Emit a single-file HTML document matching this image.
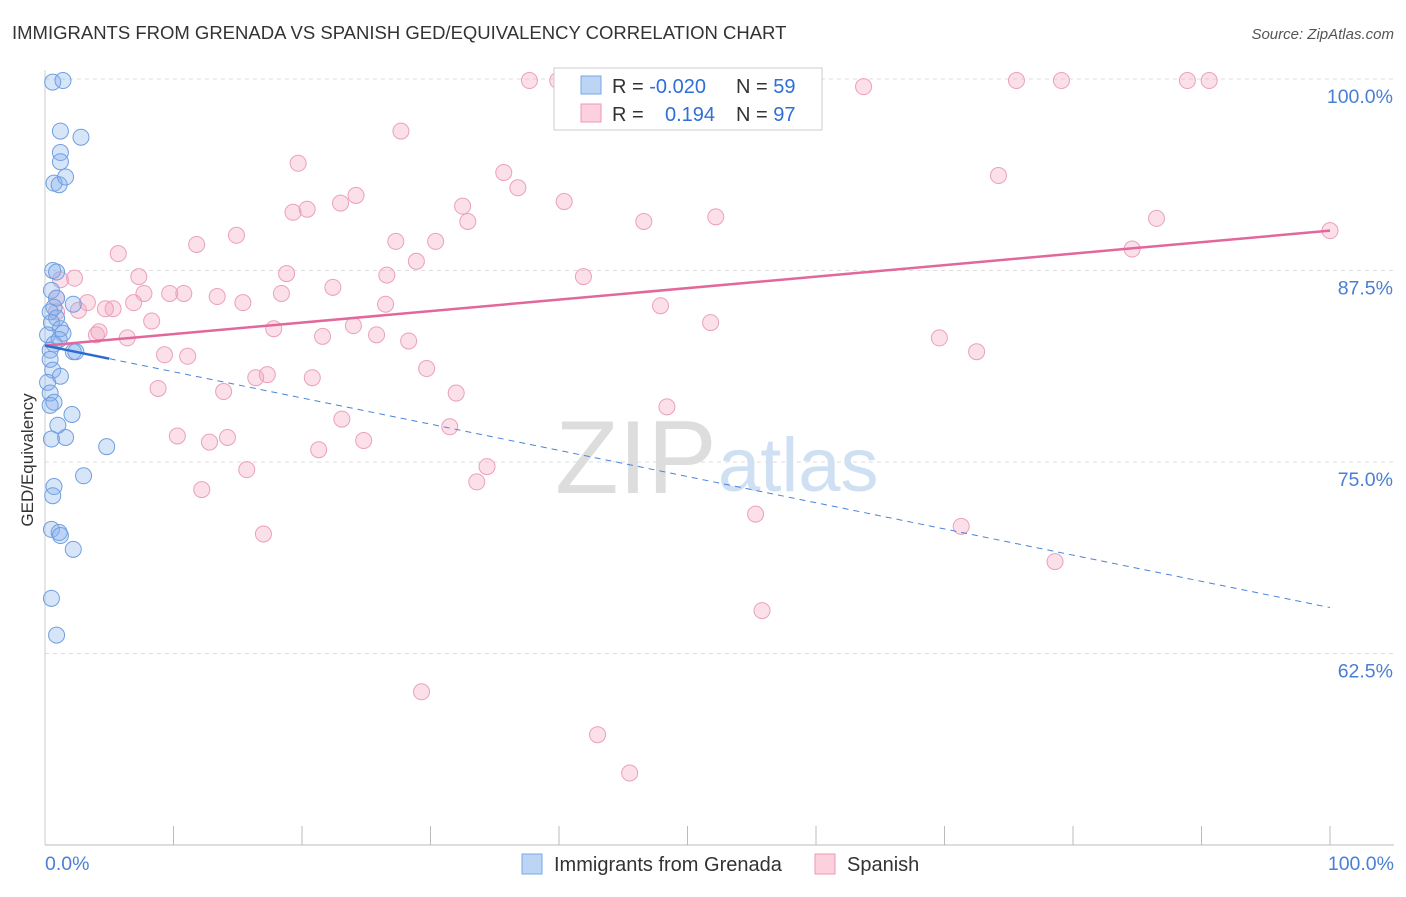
<!DOCTYPE html>
<html><head><meta charset="utf-8"><style>
body{margin:0;background:#fff;font-family:"Liberation Sans",sans-serif}
svg text{font-family:"Liberation Sans",sans-serif}
</style></head><body>
<svg id="c" width="1406" height="892">
<text x="12" y="39" font-size="18.5" fill="#333">IMMIGRANTS FROM GRENADA VS SPANISH GED/EQUIVALENCY CORRELATION CHART</text>
<text x="1394" y="39" font-size="15" fill="#555" text-anchor="end" font-style="italic">Source: ZipAtlas.com</text>
<text transform="translate(33,460) rotate(-90)" font-size="17" fill="#333" text-anchor="middle">GED/Equivalency</text>
<g id="grid"></g>
<text x="555" y="493" font-size="104" fill="#ddd" font-family="Liberation Serif">ZIP</text>
<text x="718" y="491" font-size="76" fill="#cfe0f3">atlas</text>
<g id="pts"></g>
<g id="lines"></g>
<line x1="45" y1="845" x2="1394" y2="845" stroke="#bbb"/>
<text x="45" y="870" font-size="19.5" fill="#4a7fd4">0.0%</text>
<text x="1394" y="870" font-size="19.5" fill="#4a7fd4" text-anchor="end">100.0%</text>
<g>
<rect x="554" y="68" width="268" height="62" fill="#fff" stroke="#ccc"/>
<rect x="581" y="76" width="20" height="18" fill="#bcd5f5" stroke="#7aa6e3"/>
<rect x="581" y="104" width="20" height="18" fill="#fcd0dd" stroke="#eb9ab4"/>
<text x="612" y="93" font-size="20" fill="#333">R = <tspan fill="#2f6fd6">-0.020</tspan></text>
<text x="736" y="93" font-size="20" fill="#333">N = <tspan fill="#2f6fd6">59</tspan></text>
<text x="612" y="121" font-size="20" fill="#333">R = <tspan x="665" fill="#2f6fd6">0.194</tspan></text>
<text x="736" y="121" font-size="20" fill="#333">N = <tspan fill="#2f6fd6">97</tspan></text>
</g>
<g>
<rect x="522" y="854" width="20" height="20" fill="#bcd5f5" stroke="#7aa6e3"/>
<text x="554" y="871" font-size="20" fill="#333">Immigrants from Grenada</text>
<rect x="815" y="854" width="20" height="20" fill="#fcd0dd" stroke="#eb9ab4"/>
<text x="847" y="871" font-size="20" fill="#333">Spanish</text>
</g>
</svg>
<script>
const yTicks=[62.5,75,87.5,100];
const yTickLabels=["62.5%","75.0%","87.5%","100.0%"];
const xTicks=[0,10,20,30,40,50,60,70,80,90,100];
const blueX=[0.6,1.4,1.2,2.8,1.2,1.2,0.7,1.1,1.6,0.6,0.9,0.5,0.9,2.2,0.7,0.4,0.9,0.5,1.2,1.4,0.2,1.1,0.7,0.4,2.2,2.4,0.4,0.6,1.2,0.2,0.4,0.7,0.4,2.1,1.0,1.6,0.5,4.8,3.0,0.7,0.6,0.5,1.1,1.2,2.2,0.5,0.9];
const blueY=[99.8,99.9,96.6,96.2,95.2,94.6,93.2,93.1,93.6,87.5,87.4,86.2,85.7,85.3,85.1,84.8,84.4,84.1,83.7,83.4,83.3,83.0,82.7,82.3,82.2,82.2,81.7,81.0,80.6,80.2,79.5,78.9,78.7,78.1,77.4,76.6,76.5,76.0,74.1,73.4,72.8,70.6,70.4,70.2,69.3,66.1,63.7];
const pinkX=[37.7,39.9,56.2,63.7,75.6,79.1,88.9,90.6,27.7,19.7,35.7,36.8,74.2,24.2,23.0,40.4,32.5,20.4,19.3,52.2,46.6,86.5,32.9,14.9,100,27.3,30.4,11.8,84.6,5.7,28.9,41.9,26.6,18.8,7.3,2.3,1.2,22.4,7.7,9.7,10.8,18.4,13.4,0.9,3.3,6.9,15.4,26.5,47.9,4.7,5.3,2.6,0.9,8.3,51.8,17.8,24.0,4.2,4.0,6.4,21.6,25.8,69.6,28.3,72.5,9.3,11.1,29.7,17.3,16.4,20.8,8.8,13.9,32.0,48.4,23.1,31.5,10.3,14.2,12.8,24.8,21.3,34.4,15.7,33.6,12.2,55.3,71.3,17.0,78.6,55.8,29.3,43.0,45.5];
const pinkY=[99.9,99.9,99.9,99.5,99.9,99.9,99.9,99.9,96.6,94.5,93.9,92.9,93.7,92.4,91.9,92.0,91.7,91.5,91.3,91.0,90.7,90.9,90.7,89.8,90.1,89.4,89.4,89.2,88.9,88.6,88.1,87.1,87.2,87.3,87.1,87.0,86.9,86.4,86.0,86.0,86.0,86.0,85.8,85.7,85.4,85.4,85.4,85.3,85.2,85.0,85.0,84.9,84.8,84.2,84.1,83.7,83.9,83.5,83.3,83.1,83.2,83.3,83.1,82.9,82.2,82.0,81.9,81.1,80.7,80.5,80.5,79.8,79.6,79.5,78.6,77.8,77.3,76.7,76.6,76.3,76.4,75.8,74.7,74.5,73.7,73.2,71.6,70.8,70.3,68.5,65.3,60.0,57.2,54.7];
const pinkTrend=[82.6,90.1];
const blueTrend=[82.6,65.5];
const sx=v=>45+v*12.85, sy=v=>845-(v-50)*15.32;
const NS="http://www.w3.org/2000/svg";
function mk(tag,attrs,parent){const e=document.createElementNS(NS,tag);for(const k in attrs)e.setAttribute(k,attrs[k]);document.getElementById(parent).appendChild(e);return e;}
yTicks.forEach((t,i)=>{
 const l=mk('line',{x1:45,x2:1394,y1:sy(t),y2:sy(t),stroke:'#ddd','stroke-dasharray':'4,4'},'grid');
 
 
 const tx=mk('text',{x:1393,y:sy(t)+24,'font-size':19.5,fill:'#4a7fd4','text-anchor':'end'},'grid');
 tx.textContent=yTickLabels[i];
 
 
});
xTicks.forEach(t=>{
 const l=mk('line',{x1:sx(t),x2:sx(t),y1:826,y2:845,stroke:'#bbb'},'grid');
 
 
});
const l0=mk('line',{x1:45,x2:45,y1:70,y2:845,stroke:'#ccc'},'grid');


pinkX.forEach((x,i)=>{
 const c=mk('circle',{cx:sx(x),cy:sy(pinkY[i]),r:8,fill:'rgba(244,160,190,0.32)',stroke:'#eba0ba','stroke-width':1},'pts');
 
 
});
blueX.forEach((x,i)=>{
 const c=mk('circle',{cx:sx(x),cy:sy(blueY[i]),r:8,fill:'rgba(130,175,235,0.32)',stroke:'#6f9fe0','stroke-width':1},'pts');
 
 
});
const pt=mk('line',{x1:sx(0),y1:sy(pinkTrend[0]),x2:sx(100),y2:sy(pinkTrend[1]),stroke:'#e2689a','stroke-width':2.5},'lines');


const bd=mk('line',{x1:sx(0),y1:sy(blueTrend[0]),x2:sx(100),y2:sy(blueTrend[1]),stroke:'#4a84d8','stroke-width':1,'stroke-dasharray':'6,5'},'lines');


const f=5/100;
const bs=mk('line',{x1:sx(0),y1:sy(blueTrend[0]),x2:sx(5),y2:sy(blueTrend[0]+(blueTrend[1]-blueTrend[0])*f),stroke:'#2a6bd0','stroke-width':2.5},'lines');


</script>
</body></html>
